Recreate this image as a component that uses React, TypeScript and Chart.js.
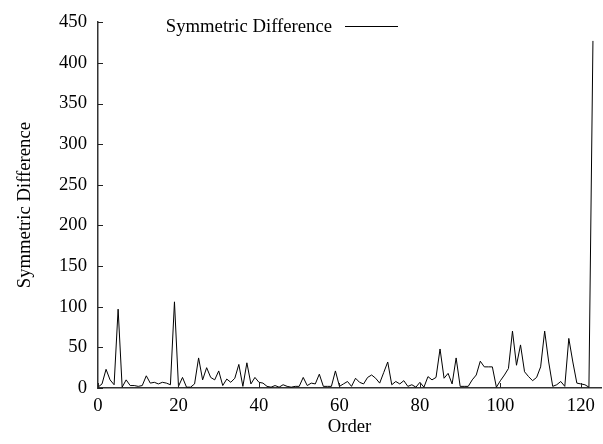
import React, { useEffect, useRef } from 'react';
import { Chart, registerables } from 'chart.js';

Chart.register(...registerables);

const FONT = "'Liberation Serif', 'Times New Roman', Times, serif";
const FONT_SIZE = 18.7;

const seriesLabel = 'Symmetric Difference';
const xTitle = 'Order';
const yTitle = 'Symmetric Difference';
const xTicks = [0, 20, 40, 60, 80, 100, 120];
const yTicks = [0, 50, 100, 150, 200, 250, 300, 350, 400, 450];

// Symmetric difference per order 0..123
const values = [
  1, 5, 23, 10, 4, 97, 1, 10, 3, 3,
  2, 3, 15, 6, 7, 5, 7, 6, 4, 106,
  2, 13, 1, 1, 5, 37, 10, 25, 13, 10,
  21, 3, 11, 7, 12, 29, 2, 31, 5, 13,
  7, 6, 2, 1, 3, 1, 4, 2, 1, 2,
  2, 13, 3, 6, 5, 17, 2, 2, 2, 21,
  2, 5, 8, 2, 12, 7, 5, 13, 16, 12,
  6, 19, 32, 4, 8, 5, 9, 2, 4, 1,
  7, 1, 14, 10, 13, 48, 12, 18, 5, 37,
  2, 2, 2, 10, 16, 33, 26, 26, 26, 1,
  9, 16, 24, 70, 28, 53, 20, 14, 9, 13,
  26, 70, 32, 2, 4, 8, 2, 61, 32, 6,
  5, 4, 1, 427,
];

const overlay = {
  id: 'overlay',
  afterDraw(chart: any) {
    const { ctx, chartArea, scales } = chart;
    ctx.save();
    ctx.strokeStyle = '#222';
    ctx.lineWidth = 1;
    for (const v of yTicks) {
      const y = Math.round(scales.y.getPixelForValue(v)) + 0.5;
      ctx.beginPath();
      ctx.moveTo(chartArea.left, y);
      ctx.lineTo(chartArea.left + 5, y);
      ctx.stroke();
    }
    for (const v of xTicks) {
      const x = Math.round(scales.x.getPixelForValue(v)) + 0.5;
      ctx.beginPath();
      ctx.moveTo(x, chartArea.bottom);
      ctx.lineTo(x, chartArea.bottom - 5);
      ctx.stroke();
    }
    // legend (text then line sample)
    ctx.font = `${FONT_SIZE}px ${FONT}`;
    ctx.fillStyle = '#000';
    ctx.textAlign = 'right';
    ctx.textBaseline = 'middle';
    ctx.fillText(seriesLabel, 332, 27);
    ctx.strokeStyle = '#000';
    ctx.beginPath();
    ctx.moveTo(345, 26.5);
    ctx.lineTo(398, 26.5);
    ctx.stroke();
    ctx.restore();
  },
};

export default function App() {
  const ref = useRef<HTMLCanvasElement>(null);

  useEffect(() => {
    if (!ref.current) return;
    const font = { family: FONT, size: FONT_SIZE };
    const chart = new Chart(ref.current, {
      type: 'line',
      data: {
        datasets: [
          {
            label: seriesLabel,
            data: values.map((v, i) => ({ x: i, y: v })),
            borderColor: '#000',
            borderWidth: 1,
            pointRadius: 0,
            tension: 0,
            fill: false,
          },
        ],
      },
      options: {
        animation: false,
        responsive: false,
        maintainAspectRatio: false,
        layout: { padding: { top: 14, right: 2, left: 0, bottom: 0 } },
        plugins: { legend: { display: false }, tooltip: { enabled: false } },
        scales: {
          x: {
            type: 'linear',
            min: 0,
            max: 125,
            afterBuildTicks: (s: any) => {
              s.ticks = xTicks.map((v) => ({ value: v }));
            },
            afterFit: (s: any) => {
              s.height = 56;
            },
            grid: { display: true, drawOnChartArea: false, drawTicks: false },
            border: { display: true, color: '#333', width: 1.5 },
            ticks: { font, color: '#000', padding: 7, maxRotation: 0 },
            title: { display: true, text: xTitle, font, color: '#000', padding: { top: 0, bottom: 6 } },
          },
          y: {
            type: 'linear',
            min: 0,
            max: 450,
            afterBuildTicks: (s: any) => {
              s.ticks = yTicks.map((v) => ({ value: v }));
            },
            afterFit: (s: any) => {
              s.width = 98;
            },
            grid: { display: true, drawOnChartArea: false, drawTicks: false },
            border: { display: true, color: '#333', width: 1.5 },
            ticks: { font, color: '#000', padding: 11 },
            title: { display: true, text: yTitle, font, color: '#000', padding: { top: 14, bottom: 0 } },
          },
        },
      },
      plugins: [overlay],
    });
    return () => chart.destroy();
  }, []);

  return (
    <div style={{ position: 'fixed', left: 0, top: 0, width: 603, height: 444, background: '#fff' }}>
      <canvas ref={ref} width={603} height={444} style={{ display: 'block' }} />
    </div>
  );
}
